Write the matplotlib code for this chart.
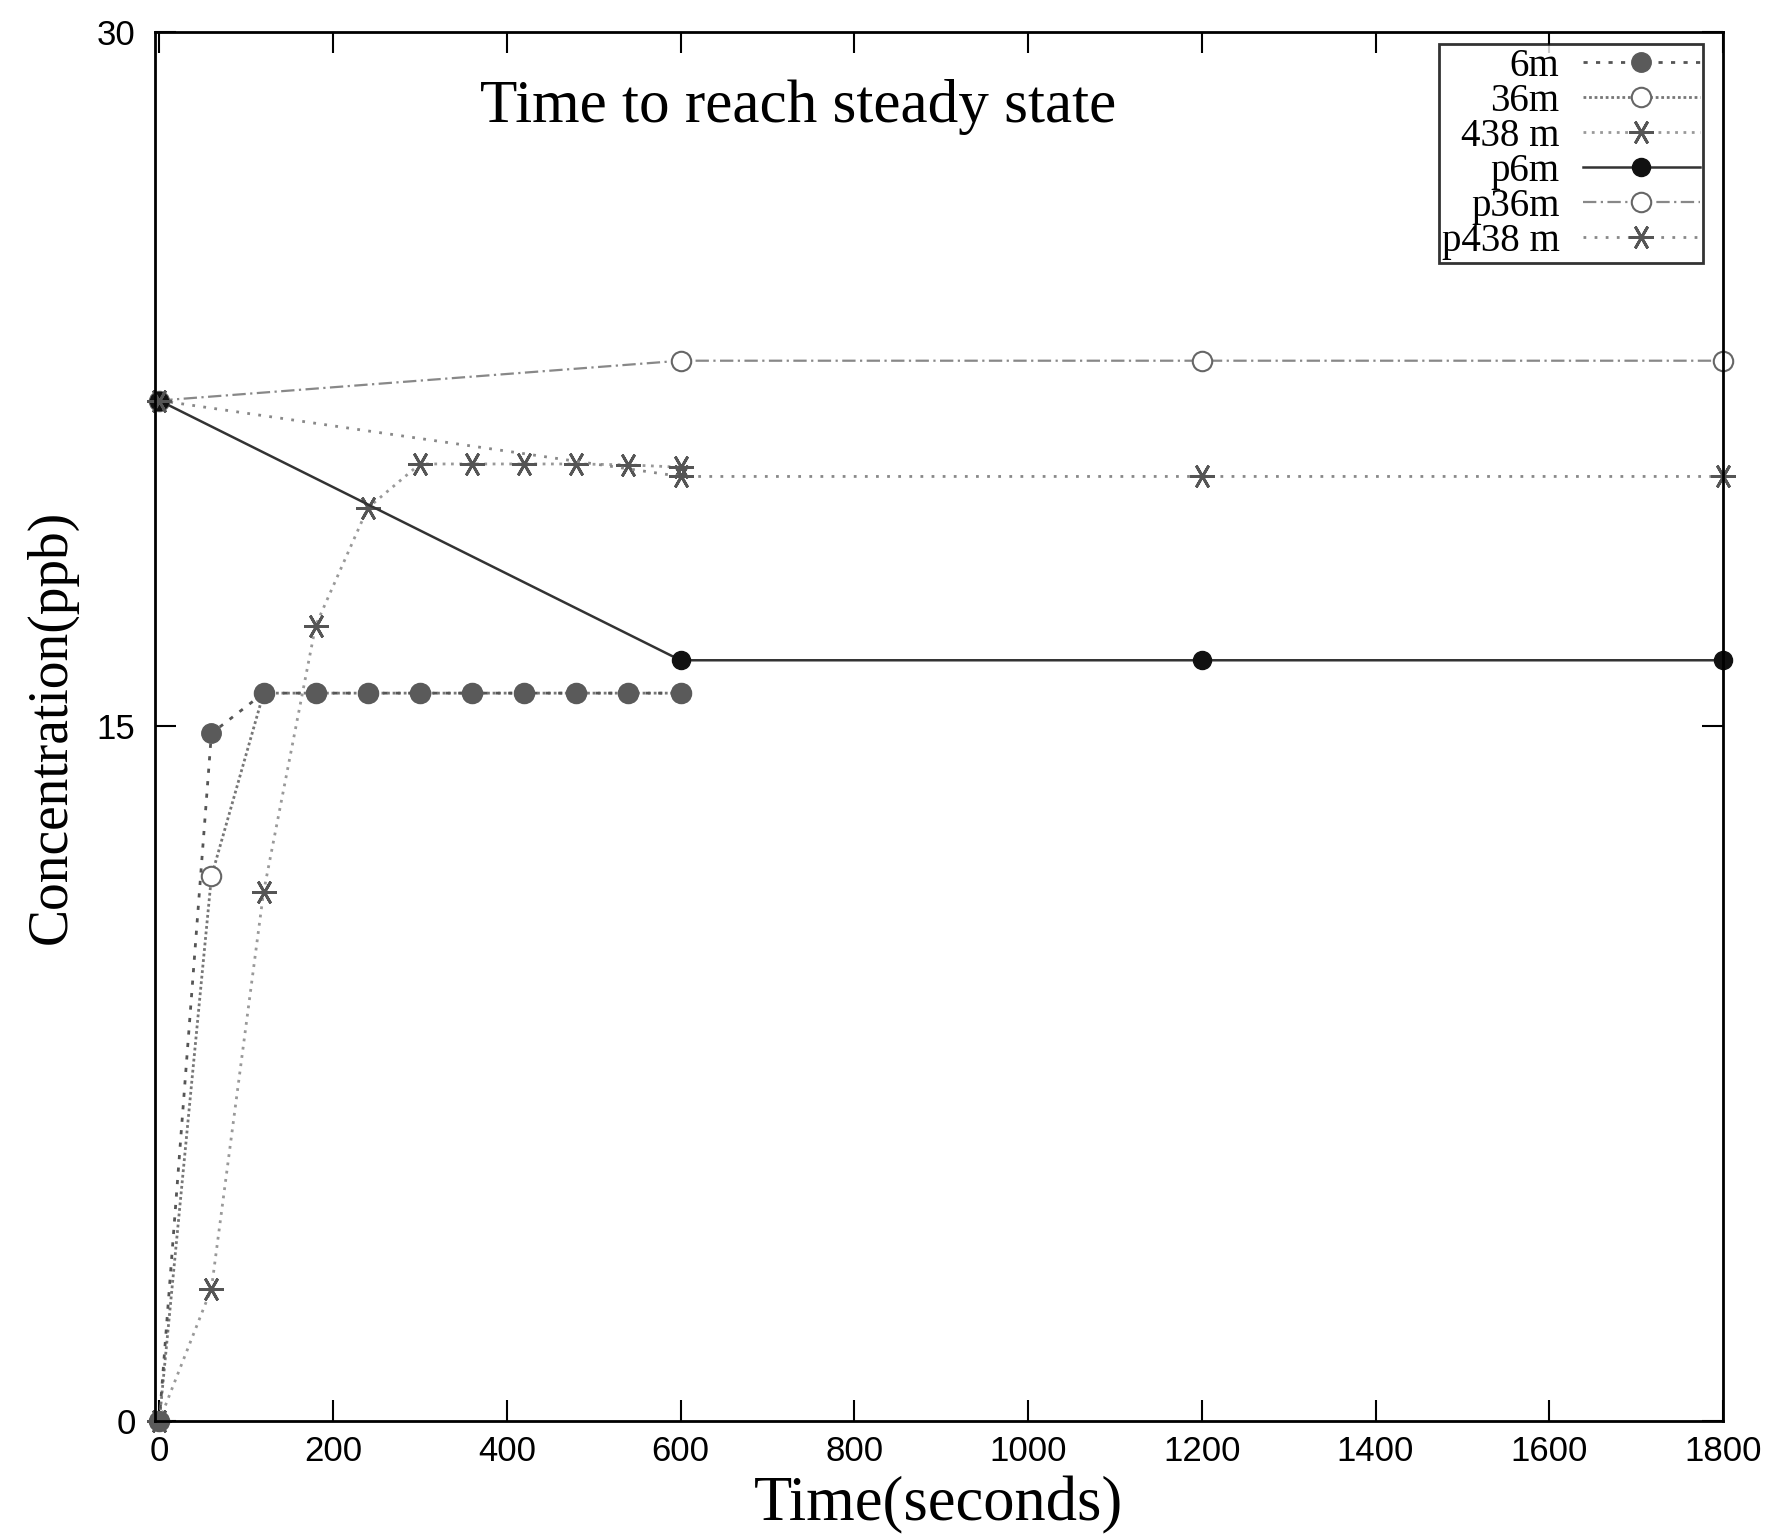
import matplotlib
matplotlib.use("Agg")
import matplotlib.pyplot as plt

# minute sampling, first 10 minutes
t_short = [0, 60, 120, 180, 240, 300, 360, 420, 480, 540, 600]
c_6m = [0, 14.85, 15.72, 15.72, 15.72, 15.72, 15.72, 15.72, 15.72, 15.72, 15.72]
c_36m = [0, 11.76, 15.72, 15.72, 15.72, 15.72, 15.72, 15.72, 15.72, 15.72, 15.72]
c_438m = [0, 2.86, 11.42, 17.18, 19.72, 20.67, 20.67, 20.67, 20.67, 20.65, 20.6]

# 10 minute sampling
t_long = [0, 600, 1200, 1800]
c_p6m = [22.04, 16.43, 16.43, 16.43]
c_p36m = [22.04, 22.9, 22.9, 22.9]
c_p438m = [22.04, 20.4, 20.4, 20.4]

serif = "Liberation Serif"
sans = "Liberation Sans"
star = (6, 2, 90)

fig = plt.figure(figsize=(17.73, 15.38), dpi=100)
ax = fig.add_axes([0.0874, 0.0761, 0.9718 - 0.0874, 0.9792 - 0.0761])

ax.plot(t_short, c_6m, linestyle=(0, (1.5, 3)), color="#555555", lw=2,
        marker="o", ms=14, mfc="#5a5a5a", mec="#5a5a5a", label="6m",
        zorder=5, clip_on=False)
ax.plot(t_short, c_36m, linestyle=(0, (1, 1)), color="#777777", lw=2,
        marker="o", ms=14, mfc="white", mec="#666666", mew=1.5, label="36m",
        zorder=3, clip_on=False)
ax.plot(t_short, c_438m, linestyle=(0, (1, 2)), color="#999999", lw=2,
        marker=star, ms=18, mec="#555555", mew=2, label="438 m",
        zorder=4, clip_on=False)
ax.plot(t_long, c_p6m, linestyle="-", color="#333333", lw=1.8,
        marker="o", ms=13, mfc="#111111", mec="#111111", label="p6m",
        zorder=4, clip_on=False)
ax.plot(t_long, c_p36m, linestyle=(0, (6, 2, 1, 2)), color="#888888", lw=1.6,
        marker="o", ms=14, mfc="white", mec="#666666", mew=1.5, label="p36m",
        zorder=3, clip_on=False)
ax.plot(t_long, c_p438m, linestyle=(0, (1, 3)), color="#888888", lw=2,
        marker=star, ms=18, mec="#555555", mew=2, label="p438 m",
        zorder=4, clip_on=False)

ax.set_xlim(-5, 1800)
ax.set_ylim(0, 30)
ax.set_xticks([0, 200, 400, 600, 800, 1000, 1200, 1400, 1600, 1800])
ax.set_yticks([0, 15, 30])
ax.tick_params(direction="in", length=15, width=1.5, top=True, right=True,
               labelsize=25, pad=10)
ax.tick_params(axis="y", pad=14)
for lab in ax.get_xticklabels() + ax.get_yticklabels():
    lab.set_family(sans)
for s in ax.spines.values():
    s.set_linewidth(2)
    s.set_zorder(6)

ax.set_xlabel("Time(seconds)", family=serif, fontsize=45, labelpad=6)
ax.set_ylabel("Concentration(ppb)", family=serif, fontsize=40, labelpad=14)
ax.text(0.41, 0.946, "Time to reach steady state", transform=ax.transAxes,
        ha="center", va="center", family=serif, fontsize=44)

leg = ax.legend(loc="upper right", bbox_to_anchor=(0.987, 0.991),
                borderaxespad=0, markerfirst=False, fancybox=False,
                prop={"family": serif, "size": 28}, labelspacing=-0.05,
                handlelength=3.0, borderpad=0.08, handletextpad=0.6)
leg.get_frame().set_edgecolor("black")
leg.get_frame().set_linewidth(2)
leg.set_zorder(10)
for t in leg.get_texts():
    t.set_ha("right")
leg._legend_box.align = "right"

fig.savefig("out.png", dpi=100)
